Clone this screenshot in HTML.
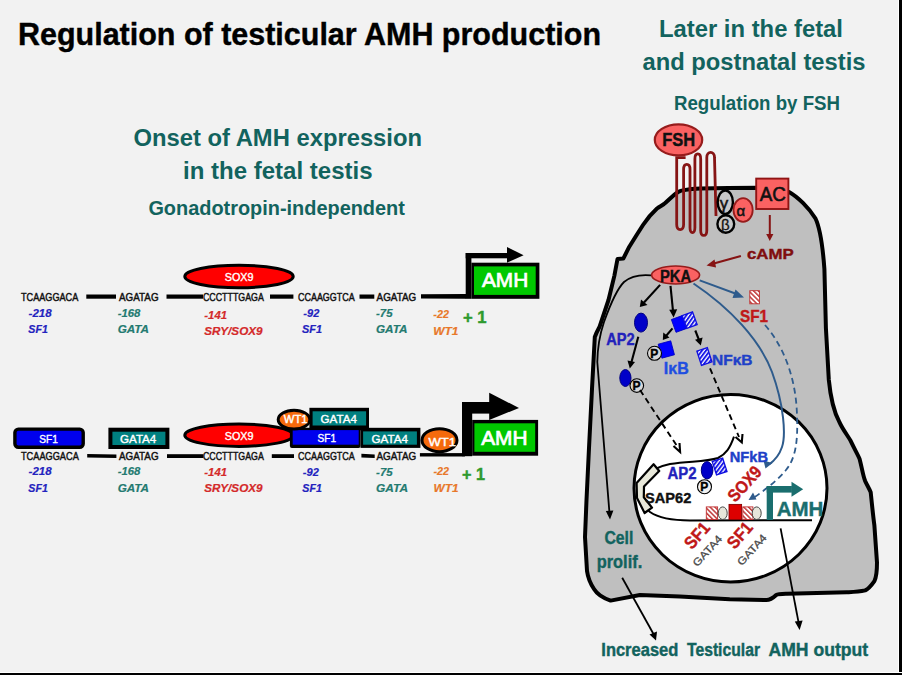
<!DOCTYPE html>
<html><head><meta charset="utf-8">
<style>
html,body{margin:0;padding:0;background:#F2F2F2;}
body{width:902px;height:675px;overflow:hidden;position:relative;}
svg{position:absolute;left:0;top:0;}
text{font-family:"Liberation Sans",sans-serif;stroke-width:0.4px;}
.b{font-weight:bold;}
.bi{font-weight:bold;font-style:italic;stroke-width:0.2px;}
text.wl{stroke-width:0.4px;}
text.seq{stroke-width:0.45px;}
text.amh{stroke-width:0.7px;}
</style></head><body>
<svg width="902" height="675" viewBox="0 0 902 675">
<defs>
<pattern id="hb" patternUnits="userSpaceOnUse" width="3.2" height="3.2" patternTransform="rotate(55)">
<rect width="3.2" height="3.2" fill="#fff"/><rect width="1.9" height="3.2" fill="#1818E8"/></pattern>
<pattern id="hr" patternUnits="userSpaceOnUse" width="3.4" height="3.4" patternTransform="rotate(-45)">
<rect width="3.4" height="3.4" fill="#fff"/><rect width="1.5" height="3.4" fill="#C03838"/></pattern>
</defs>
<rect x="0" y="0" width="902" height="675" fill="#F2F2F2"/>
<rect x="898" y="0" width="1" height="675" fill="#fff"/>
<rect x="899" y="0" width="3" height="675" fill="#000"/>
<rect x="0" y="672" width="902" height="1" fill="#fff"/>
<rect x="0" y="673" width="902" height="2" fill="#000"/>

<!-- Titles -->
<text class="b" x="18" y="45" font-size="31" textLength="583" lengthAdjust="spacingAndGlyphs" fill="#000" stroke="#000">Regulation of testicular AMH production</text>
<g fill="#12635E" class="b">
<text class="b" x="659" y="37" font-size="23" textLength="184" lengthAdjust="spacingAndGlyphs">Later in the fetal</text>
<text class="b" x="642.5" y="70.4" font-size="23" textLength="223" lengthAdjust="spacingAndGlyphs">and postnatal testis</text>
<text class="b" x="674" y="109.8" font-size="19.5" textLength="166" lengthAdjust="spacingAndGlyphs">Regulation by FSH</text>
<text class="b" x="133.5" y="146.2" font-size="24.5" textLength="288.5" lengthAdjust="spacingAndGlyphs">Onset of AMH expression</text>
<text class="b" x="183" y="178.9" font-size="24.5" textLength="189.6" lengthAdjust="spacingAndGlyphs">in the fetal testis</text>
<text class="b" x="148.4" y="215.4" font-size="20" textLength="256.5" lengthAdjust="spacingAndGlyphs">Gonadotropin-independent</text>
</g>

<!-- LEFT ROW 1 -->
<g id="row1">
<g fill="#000">
<rect x="86.3" y="294.5" width="29.7" height="4.2"/>
<rect x="166.5" y="294.5" width="36.5" height="4.2"/>
<rect x="270" y="294.5" width="23.4" height="4.2"/>
<rect x="359.5" y="294.5" width="14.8" height="4.2"/>
<polygon points="421,294.3 466,294 466,298.8 421,298.5"/>
</g>
<ellipse cx="239" cy="276.5" rx="54.2" ry="11.2" fill="#FF0000" stroke="#000" stroke-width="3"/>
<text class="wl" x="224.7" y="281.3" font-size="11.5" textLength="28.8" lengthAdjust="spacingAndGlyphs" fill="#fff" stroke="#fff">SOX9</text>
<!-- promoter -->
<rect x="465.7" y="253" width="5.7" height="45.8" fill="#000"/>
<rect x="465.7" y="253" width="42" height="5.3" fill="#000"/>
<polygon points="507,247.1 523.6,255.3 507,262.7" fill="#000"/>
<rect x="471.4" y="262.7" width="68" height="36.1" fill="#000"/>
<rect x="474" y="266.4" width="61.7" height="28.5" fill="#00C800"/>
<text class="wl amh" x="481.9" y="287.1" font-size="19.5" textLength="46.3" lengthAdjust="spacingAndGlyphs" fill="#fff" stroke="#fff">AMH</text>
<g font-size="11" fill="#111" stroke="#111" class="seqg">
<text class="seq" x="21" y="300.8" textLength="57.3" lengthAdjust="spacingAndGlyphs">TCAAGGACA</text>
<text class="seq" x="119" y="300.8" textLength="39.6" lengthAdjust="spacingAndGlyphs">AGATAG</text>
<text class="seq" x="203" y="300.8" textLength="60.8" lengthAdjust="spacingAndGlyphs">CCCTTTGAGA</text>
<text class="seq" x="298" y="300.8" textLength="56.7" lengthAdjust="spacingAndGlyphs">CCAAGGTCA</text>
<text class="seq" x="376.6" y="300.8" textLength="39.7" lengthAdjust="spacingAndGlyphs">AGATAG</text>
</g>
<g font-size="11.8">
<text class="bi" x="28.6" y="316.8" textLength="23.1" lengthAdjust="spacingAndGlyphs" fill="#2323BE" stroke="#2323BE">-218</text>
<text class="bi" x="28.3" y="333.3" textLength="19.5" lengthAdjust="spacingAndGlyphs" fill="#2323BE" stroke="#2323BE">SF1</text>
<text class="bi" x="117.7" y="316.8" textLength="22.7" lengthAdjust="spacingAndGlyphs" fill="#237A70" stroke="#237A70">-168</text>
<text class="bi" x="117.7" y="333.3" textLength="31.3" lengthAdjust="spacingAndGlyphs" fill="#237A70" stroke="#237A70">GATA</text>
<text class="bi" x="204.3" y="318.5" textLength="22.7" lengthAdjust="spacingAndGlyphs" fill="#D42A2A" stroke="#D42A2A">-141</text>
<text class="bi" x="204.3" y="335" textLength="58.2" lengthAdjust="spacingAndGlyphs" fill="#D42A2A" stroke="#D42A2A">SRY/SOX9</text>
<text class="bi" x="303.3" y="316.8" textLength="16" lengthAdjust="spacingAndGlyphs" fill="#2323BE" stroke="#2323BE">-92</text>
<text class="bi" x="302" y="333.3" textLength="20" lengthAdjust="spacingAndGlyphs" fill="#2323BE" stroke="#2323BE">SF1</text>
<text class="bi" x="376" y="316.8" textLength="16.5" lengthAdjust="spacingAndGlyphs" fill="#237A70" stroke="#237A70">-75</text>
<text class="bi" x="376" y="333.3" textLength="31.4" lengthAdjust="spacingAndGlyphs" fill="#237A70" stroke="#237A70">GATA</text>
<text class="bi" x="433.3" y="318.2" textLength="15.6" lengthAdjust="spacingAndGlyphs" fill="#E8782A" stroke="#E8782A">-22</text>
<text class="bi" x="433.3" y="334.9" textLength="25.2" lengthAdjust="spacingAndGlyphs" fill="#E8782A" stroke="#E8782A">WT1</text>
</g>
<text class="b" x="462.9" y="323.4" font-size="16" textLength="23.6" lengthAdjust="spacingAndGlyphs" fill="#2E9A2E" stroke="#2E9A2E">+ 1</text>
</g>

<!-- LEFT ROW 2 -->
<g id="row2">
<g fill="#000">
<polygon points="87.2,454 116.4,454.6 116.4,458 87.2,457.4"/>
<rect x="167" y="454.2" width="36.5" height="3.8"/>
<rect x="271.8" y="454.2" width="22.2" height="3.8"/>
<polygon points="361.4,453.8 374.7,454.4 374.7,458 361.4,457.4"/>
<rect x="419.9" y="453.1" width="45" height="3.4"/>
</g>
<rect x="14.9" y="429.1" width="68.3" height="18.2" rx="3.5" fill="#0000EE" stroke="#000" stroke-width="3.4"/>
<text class="wl" x="39.3" y="442.8" font-size="11.8" textLength="18.6" lengthAdjust="spacingAndGlyphs" fill="#fff" stroke="#fff">SF1</text>
<rect x="110.4" y="429.7" width="57" height="17.3" fill="#008080" stroke="#000" stroke-width="4"/>
<text class="wl" x="120" y="442.8" font-size="11.8" textLength="36.3" lengthAdjust="spacingAndGlyphs" fill="#fff" stroke="#fff">GATA4</text>
<ellipse cx="239" cy="435.2" rx="54.2" ry="11.2" fill="#FF0000" stroke="#000" stroke-width="3"/>
<text class="wl" x="224.7" y="440.2" font-size="11.5" textLength="28.8" lengthAdjust="spacingAndGlyphs" fill="#fff" stroke="#fff">SOX9</text>
<!-- upper GATA4 -->
<rect x="309.4" y="407.8" width="59.6" height="22.5" fill="#000"/>
<rect x="312.6" y="411.3" width="53.5" height="14.2" fill="#008080"/>
<text class="wl" x="320.6" y="423" font-size="11.8" textLength="36.3" lengthAdjust="spacingAndGlyphs" fill="#fff" stroke="#fff">GATA4</text>
<!-- SF1 box 2 -->
<rect x="289.9" y="427.8" width="70.6" height="20.1" rx="2" fill="#000"/>
<rect x="292.7" y="430.1" width="66" height="14.6" fill="#0000EE"/>
<text class="wl" x="317.5" y="442" font-size="11.8" textLength="18.5" lengthAdjust="spacingAndGlyphs" fill="#fff" stroke="#fff">SF1</text>
<!-- lower GATA4 -->
<rect x="360.5" y="427.8" width="59.9" height="20.1" fill="#000"/>
<rect x="363.1" y="431.4" width="53.8" height="13.3" fill="#008080"/>
<text class="wl" x="371.5" y="442.5" font-size="11.8" textLength="36.5" lengthAdjust="spacingAndGlyphs" fill="#fff" stroke="#fff">GATA4</text>
<!-- WT1 upper -->
<ellipse cx="294" cy="419.6" rx="15.8" ry="9.4" fill="#F56A0C" stroke="#000" stroke-width="3"/>
<text class="wl" x="283.8" y="423.4" font-size="11" textLength="23.8" lengthAdjust="spacingAndGlyphs" fill="#fff" stroke="#fff">WT1</text>
<!-- WT1 lower -->
<ellipse cx="439.5" cy="440.2" rx="17.5" ry="11.5" fill="#F56A0C" stroke="#000" stroke-width="3"/>
<text class="wl" x="428.4" y="445.5" font-size="11" textLength="27.6" lengthAdjust="spacingAndGlyphs" fill="#fff" stroke="#fff">WT1</text>
<!-- promoter -->
<rect x="462" y="402" width="10.2" height="54.2" fill="#000"/>
<rect x="462" y="402" width="28" height="11.6" fill="#000"/>
<polygon points="489.2,392.7 519,408 489.2,419.9" fill="#000"/>
<rect x="472.2" y="419.9" width="65.9" height="35.8" fill="#000"/>
<rect x="474.4" y="423.3" width="60.8" height="28.5" fill="#00C800"/>
<text class="wl amh" x="481.2" y="444.6" font-size="19.5" textLength="46.3" lengthAdjust="spacingAndGlyphs" fill="#fff" stroke="#fff">AMH</text>
<g font-size="11" fill="#111" stroke="#111" class="seqg">
<text class="seq" x="21" y="459.7" textLength="57.8" lengthAdjust="spacingAndGlyphs">TCAAGGACA</text>
<text class="seq" x="119" y="459.7" textLength="39.6" lengthAdjust="spacingAndGlyphs">AGATAG</text>
<text class="seq" x="203" y="459.7" textLength="60.8" lengthAdjust="spacingAndGlyphs">CCCTTTGAGA</text>
<text class="seq" x="298" y="459.7" textLength="56.8" lengthAdjust="spacingAndGlyphs">CCAAGGTCA</text>
<text class="seq" x="376.4" y="459.7" textLength="39.9" lengthAdjust="spacingAndGlyphs">AGATAG</text>
</g>
<g font-size="11.8">
<text class="bi" x="28.6" y="475.3" textLength="23.1" lengthAdjust="spacingAndGlyphs" fill="#2323BE" stroke="#2323BE">-218</text>
<text class="bi" x="28.3" y="492.1" textLength="19.5" lengthAdjust="spacingAndGlyphs" fill="#2323BE" stroke="#2323BE">SF1</text>
<text class="bi" x="117.7" y="475.3" textLength="22.7" lengthAdjust="spacingAndGlyphs" fill="#237A70" stroke="#237A70">-168</text>
<text class="bi" x="117.7" y="492.1" textLength="31.3" lengthAdjust="spacingAndGlyphs" fill="#237A70" stroke="#237A70">GATA</text>
<text class="bi" x="204.3" y="475.7" textLength="22.7" lengthAdjust="spacingAndGlyphs" fill="#D42A2A" stroke="#D42A2A">-141</text>
<text class="bi" x="204.3" y="492.2" textLength="58.2" lengthAdjust="spacingAndGlyphs" fill="#D42A2A" stroke="#D42A2A">SRY/SOX9</text>
<text class="bi" x="302.8" y="475.7" textLength="16" lengthAdjust="spacingAndGlyphs" fill="#2323BE" stroke="#2323BE">-92</text>
<text class="bi" x="302.3" y="492.2" textLength="19.5" lengthAdjust="spacingAndGlyphs" fill="#2323BE" stroke="#2323BE">SF1</text>
<text class="bi" x="376.1" y="475.7" textLength="16.5" lengthAdjust="spacingAndGlyphs" fill="#237A70" stroke="#237A70">-75</text>
<text class="bi" x="376.1" y="492.2" textLength="31.9" lengthAdjust="spacingAndGlyphs" fill="#237A70" stroke="#237A70">GATA</text>
<text class="bi" x="433.5" y="475.3" textLength="15.6" lengthAdjust="spacingAndGlyphs" fill="#E8782A" stroke="#E8782A">-22</text>
<text class="bi" x="433.5" y="492" textLength="25" lengthAdjust="spacingAndGlyphs" fill="#E8782A" stroke="#E8782A">WT1</text>
</g>
<text class="b" x="462" y="479.5" font-size="16" textLength="23" lengthAdjust="spacingAndGlyphs" fill="#2E9A2E" stroke="#2E9A2E">+ 1</text>
</g>

<!-- RIGHT PANEL -->
<g id="cell">
<path d="M700,188.5 C720,188 740,187.8 757,187.8 L789,192 C798,197 809,208 815.5,218.5 C820,228 823,250 824.4,268.8 L825.9,328 L828.8,379.7 C830,392 833,410 839.3,421.9 C843,430 848,436 850.4,440.4 C855,450 858,455 859.6,458.9 C862,468 863,476 865.2,481.1 C867,485 869,488 870.7,492.2 C872,505 873,515 874.4,525.6 L877,562.6 C877,572 876,578 874.4,581.1 C871,586 868,589 865.2,590.4 C858,592 852,592 846.7,592.2 L787,593.8 C780,594 778,594 776.2,595 C772,599 769,600 766.2,600 L729.7,599.3 L679.8,596.6 L639.9,595 L610.6,600.6 C603,598 597,594 594,589 C590,583 588,578 587,571 L585,537 L586.5,500 L589,448 L592,388.9 L594.8,337 C597,331 599,328 599.6,326.7 L608.5,300 L614.4,275.6 L617.5,259 L623.3,258.6 L629.3,246.7 L636,236 L643,225 C647,219 652,213 657,208.5 C659,207 661,206 664,204 C668,201 672,196 678,192 C682,189.5 690,189 700,188.5 Z" fill="#BFBFBF" stroke="#000" stroke-width="4" stroke-linejoin="round"/>
<ellipse cx="730.5" cy="488.2" rx="96.5" ry="93.7" fill="#fff" stroke="#000" stroke-width="3"/>
</g>
<g id="top">
<ellipse cx="678.5" cy="139.9" rx="23.7" ry="15.5" fill="#FA6262" stroke="#961C1C" stroke-width="2.2"/>
<text class="b" x="662.2" y="146.3" font-size="17.5" textLength="32.9" lengthAdjust="spacingAndGlyphs" fill="#111" stroke="#111">FSH</text>
<path d="M685.6,157.6 L676.7,157.6 L676.7,224.5 C676.7,231.2 683.6,231.2 683.6,224.5 L683.6,169.3 C683.6,162.6 690,162.6 690,169.3 L690,227.5 C690,234.2 694.9,234.2 694.9,227.5 L694.9,158.9 C694.9,152.2 700.7,152.2 700.7,158.9 L700.7,230.4 C700.7,237.1 706.8,237.1 706.8,230.4 L706.8,157.4 C706.8,150.7 714.5,150.7 714.5,157.4 L716,216" fill="none" stroke="#861414" stroke-width="2.8"/>
<ellipse cx="725.3" cy="202.2" rx="7.6" ry="11.7" fill="#C8C8C8" stroke="#000" stroke-width="2.4"/>
<ellipse cx="725.8" cy="224" rx="8.4" ry="8.7" fill="#C8C8C8" stroke="#000" stroke-width="2.4"/>
<text x="719.8" y="209.3" font-size="17" fill="#111" style="stroke-width:0.5px" stroke="#111">γ</text>
<text x="721" y="230" font-size="15" fill="#111" style="stroke-width:0.3px" stroke="#111">β</text>
<ellipse cx="743.1" cy="210" rx="9.6" ry="11.8" fill="#FA6262" stroke="#961C1C" stroke-width="1.8"/>
<text x="736.5" y="216" font-size="15" fill="#111" style="stroke-width:0.5px" stroke="#111">α</text>
<rect x="756.2" y="178.6" width="32.2" height="30.4" fill="#FA6262" stroke="#901414" stroke-width="1.9"/>
<text x="759.8" y="201.4" font-size="19.5" textLength="26.1" lengthAdjust="spacingAndGlyphs" fill="#111" stroke="#111" style="stroke-width:0.6px">AC</text>
<line x1="769.8" y1="215" x2="769.8" y2="236" stroke="#861414" stroke-width="2"/>
<polygon points="766.2,234 773.4,234 769.8,241" fill="#861414"/>
<text class="b" x="747" y="259.3" font-size="15.4" textLength="46.7" lengthAdjust="spacingAndGlyphs" fill="#800E0E" stroke="#800E0E">cAMP</text>
<line x1="740.9" y1="256" x2="712" y2="264" stroke="#861414" stroke-width="2.2"/>
<polygon points="706.5,265.5 714.5,259.5 716,267.5" fill="#861414"/>
</g>
<g id="cyto">
<!-- black curve to cell prolif -->
<path d="M651,275.3 C642,274.5 632,275 624,282 C616,290 609,308 604,322 C600,334 597.5,348 597.3,362 L609.4,512" fill="none" stroke="#000" stroke-width="1.8"/>
<polygon points="605.8,511 613.4,510.5 610,519.5" fill="#000"/>
<!-- steel blue -->
<path d="M699.7,280.4 L738,294.5" fill="none" stroke="#2E5B8C" stroke-width="2"/>
<polygon points="735.5,289.5 744,297.5 732.5,298" fill="#2E5B8C"/>
<path d="M693.5,283.5 C730,308 760,340 772,372 C784,405 786,435 782,447 C779,456 774,461 769,464.5" fill="none" stroke="#2E5B8C" stroke-width="2"/>
<polygon points="763.5,460.5 772.5,463 765.5,468.5" fill="#2E5B8C"/>
<path d="M765,325 C785,348 796,380 797,415 C798,440 796,458 786,470 C776,482 762,492 754,497.5" fill="none" stroke="#2E5B8C" stroke-width="1.8" stroke-dasharray="6,4"/>
<polygon points="748.5,500 753,492.5 756.5,499.5" fill="#2E5B8C"/>
<!-- PKA -->
<ellipse cx="675.6" cy="275" rx="24" ry="9" fill="#FA6262" stroke="#961C1C" stroke-width="1.6"/>
<text class="b" x="660" y="282.2" font-size="16.8" textLength="31.1" lengthAdjust="spacingAndGlyphs" fill="#111" stroke="#111">PKA</text>
<!-- black arrows -->
<line x1="660.1" y1="284.9" x2="644" y2="302.5" stroke="#000" stroke-width="2.1"/>
<polygon points="639.8,307 641,299.5 647.5,305" fill="#000"/>
<line x1="670.5" y1="285.9" x2="673" y2="311" stroke="#000" stroke-width="2.1"/>
<polygon points="673.6,317.5 669.2,309.8 677.2,309.2" fill="#000"/>
<line x1="638.3" y1="336.7" x2="631.5" y2="362" stroke="#000" stroke-width="2.1"/>
<polygon points="629.8,368.5 627.5,360.5 635,362" fill="#000"/>
<line x1="672.5" y1="328.4" x2="666" y2="336" stroke="#000" stroke-width="2.1"/>
<polygon points="662.8,340 663.3,332.5 669.5,337.5" fill="#000"/>
<line x1="695.3" y1="330.5" x2="699" y2="340" stroke="#000" stroke-width="2.1"/>
<polygon points="700.8,345.5 695,339.8 702.6,337.5" fill="#000"/>
<!-- AP2 -->
<ellipse cx="641" cy="322.6" rx="6.5" ry="9.5" fill="#0000C8" stroke="#000080" stroke-width="1"/>
<text class="b" x="606.2" y="345.2" font-size="16.5" textLength="28.5" lengthAdjust="spacingAndGlyphs" fill="#2222BB" stroke="#2222BB">AP2</text>
<ellipse cx="625.4" cy="378" rx="5.6" ry="8.5" fill="#0000C8" stroke="#000080" stroke-width="1"/>
<circle cx="636.8" cy="385.6" r="6.8" fill="#D8D8D8" stroke="#000" stroke-width="1.1"/>
<text class="b" x="632.6" y="389.9" font-size="12" fill="#000" stroke="#000">P</text>
<!-- IkB-NFkB complex -->
<g transform="translate(684.5,322) rotate(-20)">
<rect x="-11.5" y="-6.8" width="11.5" height="13.6" fill="#0000FF" stroke="#0000C0" stroke-width="0.8"/>
<rect x="0" y="-6.8" width="11" height="13.6" fill="url(#hb)" stroke="#1010E0" stroke-width="1.3"/>
</g>
<g transform="translate(666.3,349.5) rotate(-15)">
<rect x="-6.5" y="-7.2" width="13" height="14.4" fill="#0000FF" stroke="#0000C0" stroke-width="0.8"/>
</g>
<circle cx="654.5" cy="353.3" r="7" fill="#D8D8D8" stroke="#000" stroke-width="1.1"/>
<text class="b" x="650.2" y="357.9" font-size="12" fill="#000" stroke="#000">P</text>
<text class="b" x="663.8" y="373.5" font-size="16.5" textLength="25" lengthAdjust="spacingAndGlyphs" fill="#1F4FE0" stroke="#1F4FE0">IκB</text>
<g transform="translate(704.4,356.5) rotate(-18)">
<rect x="-5.5" y="-7.5" width="11" height="15" fill="url(#hb)" stroke="#1010E0" stroke-width="1.3"/>
</g>
<text class="b" x="712.1" y="364.9" font-size="14.5" textLength="40.4" lengthAdjust="spacingAndGlyphs" fill="#2040C8" stroke="#2040C8">NFκB</text>
<!-- SF1 hatched -->
<rect x="749.8" y="290.7" width="9.6" height="13.1" fill="url(#hr)" stroke="#C03030" stroke-width="0.9"/>
<text class="b" x="740.1" y="322.2" font-size="17" textLength="28" lengthAdjust="spacingAndGlyphs" fill="#C01818" stroke="#C01818">SF1</text>
<!-- dashed black arrows -->
<path d="M640,390 L677,446" fill="none" stroke="#000" stroke-width="1.9" stroke-dasharray="6,4"/>
<polyline points="673.5,446 680.1,452 679.5,443" fill="none" stroke="#000" stroke-width="2.1"/>
<path d="M710,368.4 L739,437" fill="none" stroke="#000" stroke-width="1.9" stroke-dasharray="6,4"/>
<polyline points="735.5,437 741.8,442.4 742.5,434" fill="none" stroke="#000" stroke-width="2.1"/>
<!-- cell prolif -->
<text class="b" x="604.4" y="543.8" font-size="18" textLength="28.9" lengthAdjust="spacingAndGlyphs" fill="#12635E" stroke="#12635E">Cell</text>
<text class="b" x="596.7" y="568" font-size="18" textLength="45.5" lengthAdjust="spacingAndGlyphs" fill="#12635E" stroke="#12635E">prolif.</text>
<line x1="622.2" y1="577.8" x2="653.5" y2="634" stroke="#000" stroke-width="1.8"/>
<polygon points="656,640.5 649.5,634.5 657,631.5" fill="#000"/>
<line x1="780.6" y1="528.3" x2="798.5" y2="622" stroke="#000" stroke-width="1.8"/>
<polygon points="799.6,630 794.8,621.5 802.6,620.5" fill="#000"/>
<text class="b" x="601.3" y="656" font-size="17.5" textLength="77" lengthAdjust="spacingAndGlyphs" fill="#12635E" stroke="#12635E">Increased</text>
<text class="b" x="687" y="656" font-size="17.5" textLength="73" lengthAdjust="spacingAndGlyphs" fill="#12635E" stroke="#12635E">Testicular</text>
<text class="b" x="768.5" y="656" font-size="17.5" textLength="99.6" lengthAdjust="spacingAndGlyphs" fill="#12635E" stroke="#12635E">AMH output</text>
</g>
<g id="nucleus">
<!-- DNA loop -->
<path d="M734,436.6 C730,448 726,454 718,458 C705,462 690,461 670,464 C660,466 650,470 644,478 C637,490 640,503 650,512 C660,519 675,520.4 690,520.4 L812,520.2" fill="none" stroke="#000" stroke-width="2"/>
<path d="M653.6,464.2 L659.2,471 L644,486.5 L643.8,497.2 L652,507.6 L644.6,513 L637,498 L636.6,483 Z" fill="#E8E8DA" stroke="#000" stroke-width="2.2" stroke-linejoin="round"/>
<text class="b" x="667.6" y="479" font-size="16" textLength="29" lengthAdjust="spacingAndGlyphs" fill="#2222BB" stroke="#2222BB">AP2</text>
<text class="b" x="645" y="503.3" font-size="15.5" textLength="46.3" lengthAdjust="spacingAndGlyphs" fill="#111" stroke="#111">SAP62</text>
<g transform="translate(719.6,466.5) rotate(-18)">
<rect x="-5.5" y="-7" width="11" height="14" fill="url(#hb)" stroke="#1010E0" stroke-width="1.3"/>
</g>
<ellipse cx="707.1" cy="470.3" rx="5.8" ry="8.7" fill="#0000C8" stroke="#000080" stroke-width="1"/>
<circle cx="704.5" cy="486.7" r="7" fill="#F2F2F2" stroke="#000" stroke-width="1.1"/>
<text class="b" x="700.2" y="491.2" font-size="12" fill="#000" stroke="#000">P</text>
<text class="b" x="729.7" y="461.6" font-size="14.5" textLength="38.3" lengthAdjust="spacingAndGlyphs" fill="#2040C8" stroke="#2040C8">NFkB</text>
<text class="b" x="0" y="0" font-size="17.5" textLength="41" lengthAdjust="spacingAndGlyphs" fill="#C01818" transform="translate(735.3,503) rotate(-48)" stroke="#C01818">SOX9</text>
<rect x="706.3" y="506.9" width="11.3" height="12.6" fill="url(#hr)" stroke="#C03030" stroke-width="0.9"/>
<ellipse cx="722.7" cy="513.2" rx="4.5" ry="6.3" fill="#E6E6DA" stroke="#333" stroke-width="0.9"/>
<rect x="729" y="504.4" width="12.6" height="15.1" fill="#DD0000" stroke="#800" stroke-width="0.9"/>
<rect x="742.8" y="506.9" width="10.1" height="12.6" fill="url(#hr)" stroke="#C03030" stroke-width="0.9"/>
<ellipse cx="756.7" cy="513.2" rx="4.5" ry="6.3" fill="#E6E6DA" stroke="#333" stroke-width="0.9"/>
<!-- AMH promoter teal -->
<rect x="766.7" y="486" width="6.3" height="34" fill="#1A6E6E"/>
<rect x="766.7" y="486" width="25.2" height="6.6" fill="#1A6E6E"/>
<polygon points="791.5,481.7 803.2,489.3 791.5,496.8" fill="#1A6E6E"/>
<text class="b" x="776.8" y="515.7" font-size="20" textLength="46.6" lengthAdjust="spacingAndGlyphs" fill="#1A6E6E" stroke="#1A6E6E">AMH</text>
<text class="b" x="0" y="0" font-size="17.5" textLength="29" lengthAdjust="spacingAndGlyphs" fill="#C01818" transform="translate(692,550.3) rotate(-49)" stroke="#C01818">SF1</text>
<text x="0" y="0" font-size="10.5" textLength="38" lengthAdjust="spacingAndGlyphs" fill="#4A4A4A" style="stroke-width:0.3px" transform="translate(697.3,567.3) rotate(-47.6)" stroke="#4A4A4A">GATA4</text>
<text class="b" x="0" y="0" font-size="17.5" textLength="29" lengthAdjust="spacingAndGlyphs" fill="#C01818" transform="translate(734.8,550) rotate(-49)" stroke="#C01818">SF1</text>
<text x="0" y="0" font-size="10.5" textLength="38" lengthAdjust="spacingAndGlyphs" fill="#4A4A4A" style="stroke-width:0.3px" transform="translate(741.8,566.2) rotate(-47.6)" stroke="#4A4A4A">GATA4</text>
</g>

</svg>
</body></html>
